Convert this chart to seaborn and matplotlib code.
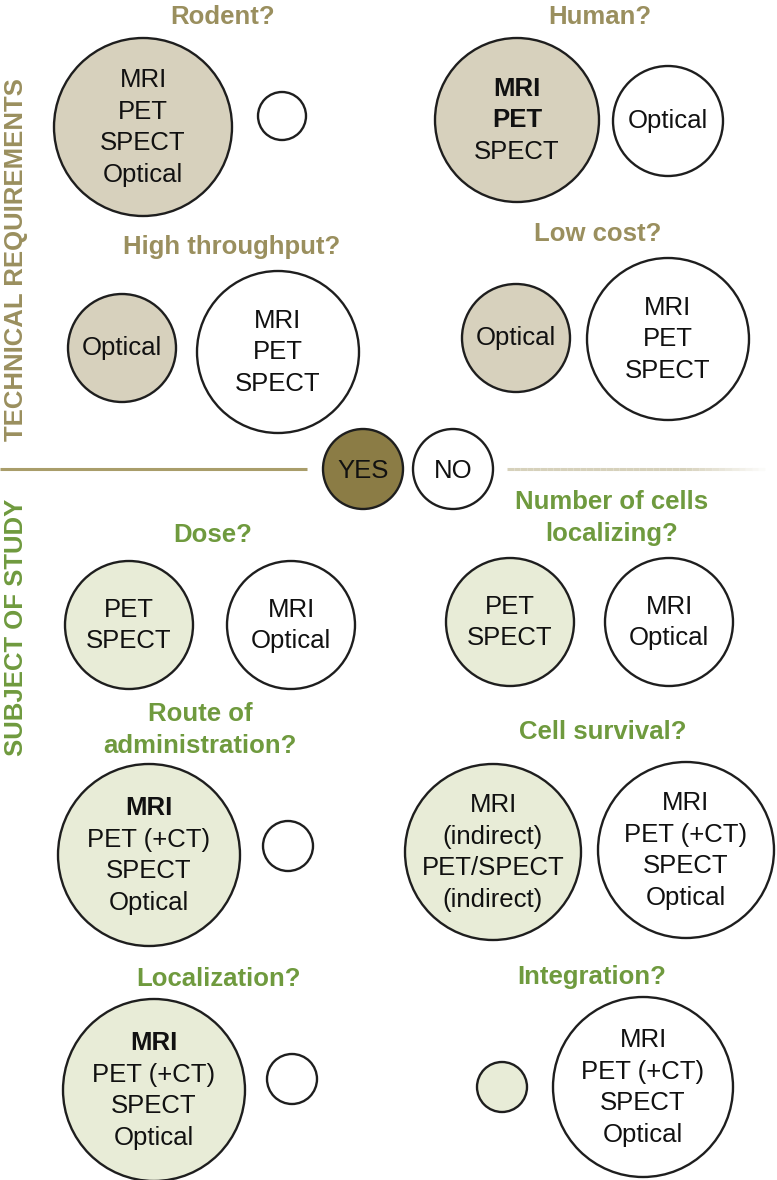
import numpy as np
import pandas as pd
import matplotlib.pyplot as plt
import seaborn as sns

# --- content of the decision diagram ---
questions = ["Rodent?", "Human?", "High throughput?", "Low cost?",
             "Dose?", "Number of cells\nlocalizing?", "Route of\nadministration?",
             "Cell survival?", "Localization?", "Integration?"]
section = ["tech", "tech", "tech", "tech",
           "study", "study", "study", "study", "study", "study"]

yes_items = [["MRI", "PET", "SPECT", "Optical"], ["MRI", "PET", "SPECT"],
             ["Optical"], ["Optical"], ["PET", "SPECT"], ["PET", "SPECT"],
             ["MRI", "PET (+CT)", "SPECT", "Optical"],
             ["MRI", "(indirect)", "PET/SPECT", "(indirect)"],
             ["MRI", "PET (+CT)", "SPECT", "Optical"], []]
no_items = [[], ["Optical"], ["MRI", "PET", "SPECT"], ["MRI", "PET", "SPECT"],
            ["MRI", "Optical"], ["MRI", "Optical"], [],
            ["MRI", "PET (+CT)", "SPECT", "Optical"], [],
            ["MRI", "PET (+CT)", "SPECT", "Optical"]]
yes_bold = [[], ["MRI", "PET"], [], [], [], [], ["MRI"], [], ["MRI"], []]

section_titles = ["TECHNICAL REQUIREMENTS", "SUBJECT OF STUDY"]
legend_labels = ["YES", "NO"]

# --- layout (pixels, y down) ---
title_xy = [(223, 15), (600, 15), (232, 245), (598, 232), (213, 533),
            (612, 516), (200, 728), (603, 730), (219, 977), (592, 975)]
yes_xyr = [(143, 127, 89), (517, 120, 82), (122, 348, 54), (516, 338, 54),
           (129, 625, 64), (510, 622, 64), (149, 855, 91), (493, 852, 88),
           (154, 1090, 91), (502, 1087, 25)]
no_xyr = [(282, 116, 24), (668, 121, 55), (278, 352, 81), (668, 339, 81),
          (291, 625, 64), (669, 622, 64), (288, 846, 25), (686, 850, 88),
          (292, 1079, 25), (643, 1087, 90)]
legend_xyr = [(363, 469, 40), (453, 469, 40)]

OLIVE = "#9a8f5e"
GREEN = "#6f9a3e"
colors = {"tech": "#d7d1bd", "study": "#e8ecd7", "no": "white", "yes": "#8b7c45"}
title_colors = {"tech": OLIVE, "study": GREEN}

sns.set_theme(style="white")
plt.rcParams["font.family"] = ["Liberation Sans", "DejaVu Sans"]

W, H = 777, 1180
fig = plt.figure(figsize=(W / 100, H / 100), dpi=100)
ax = fig.add_axes([0, 0, 1, 1])

# build circle table
rows = []
for i in range(len(questions)):
    x, y, r = yes_xyr[i]
    rows.append({"x": x, "y": y, "r": r, "fill": section[i]})
    x, y, r = no_xyr[i]
    rows.append({"x": x, "y": y, "r": r, "fill": "no"})
for lab, (x, y, r) in zip(legend_labels, legend_xyr):
    rows.append({"x": x, "y": y, "r": r, "fill": "yes" if lab == "YES" else "no"})
circles = pd.DataFrame(rows)
# marker diameter in points (dpi 100 -> 0.72 pt per px)
circles["s"] = (2 * circles["r"] * 0.72) ** 2

sns.scatterplot(data=circles, x="x", y="y", hue="fill", palette=colors,
                size="s", sizes={v: v for v in circles["s"].unique()},
                edgecolor="#1e1e1e", linewidth=1.7, legend=False, ax=ax, zorder=2)

LINE = 31.5
FS = 18.5
CAP = 9.3  # half cap height in px


def draw_lines(cx, cy, items, bold=()):
    n = len(items)
    for k, t in enumerate(items):
        yy = cy - 2 + (k - (n - 1) / 2) * LINE + CAP
        ax.text(cx, yy, t, ha="center", va="baseline", fontsize=FS,
                fontweight="bold" if t in bold else "normal", color="#111111", zorder=3)


for i, q in enumerate(questions):
    tx, ty = title_xy[i]
    qlines = q.split("\n")
    n = len(qlines)
    for k, t in enumerate(qlines):
        yy = ty + (k - (n - 1) / 2) * 32 + CAP
        ax.text(tx, yy, t, ha="center", va="baseline", fontsize=FS,
                fontweight="bold", color=title_colors[section[i]])
    draw_lines(yes_xyr[i][0], yes_xyr[i][1], yes_items[i], yes_bold[i])
    draw_lines(no_xyr[i][0], no_xyr[i][1], no_items[i])

for lab, (x, y, r) in zip(legend_labels, legend_xyr):
    ax.text(x, y + CAP, lab, ha="center", va="baseline", fontsize=FS, color="#111111", zorder=3)

# separators: solid on the left, fading out on the right
ax.plot([0, 307], [469, 469], color="#a99d6a", lw=2.2, solid_capstyle="butt")
xs = np.linspace(507, 765, 40)
for k in range(len(xs) - 1):
    a = 1.0 if xs[k] < 680 else max(0.0, 1 - (xs[k] - 680) / 85)
    ax.plot(xs[k:k + 2], [469, 469], color="#d6d1bb", lw=2.2, alpha=a,
            solid_capstyle="butt")

ax.text(16, 260, section_titles[0], rotation=90, ha="center", va="center",
        fontsize=FS, fontweight="bold", color=OLIVE)
ax.text(16, 627, section_titles[1], rotation=90, ha="center", va="center",
        fontsize=FS, fontweight="bold", color=GREEN)

ax.set_xlim(0, W)
ax.set_ylim(H, 0)
ax.set_aspect("equal")
ax.axis("off")

fig.savefig("out.png", dpi=100)
